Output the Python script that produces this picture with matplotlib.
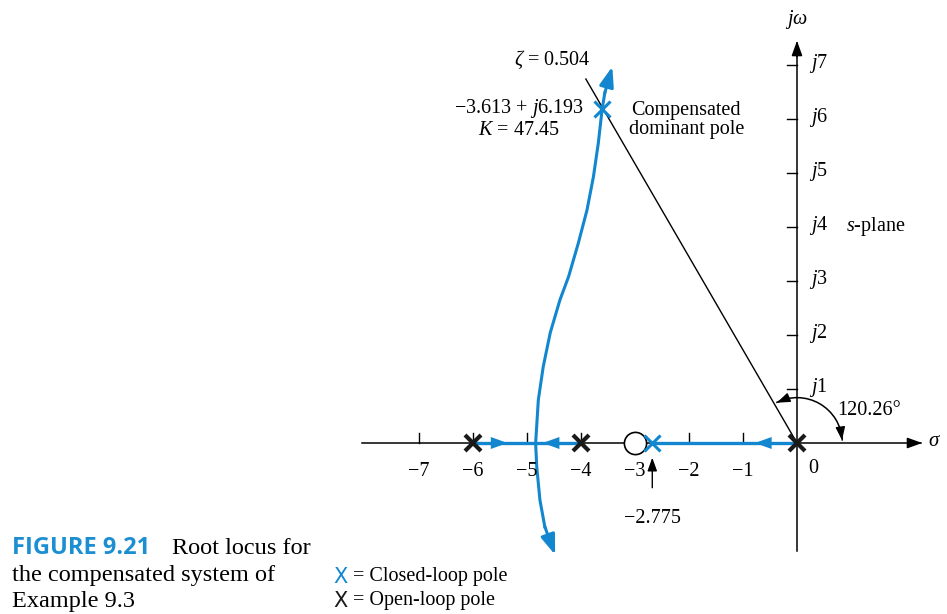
import numpy as np
import matplotlib
matplotlib.use('Agg')
import matplotlib.pyplot as plt
from matplotlib.patches import Arc

plt.rcParams['font.family'] = ['Liberation Serif', 'DejaVu Serif']
plt.rcParams['mathtext.fontset'] = 'custom'
plt.rcParams['mathtext.rm'] = 'Liberation Serif'
plt.rcParams['mathtext.it'] = 'Liberation Serif:italic'

BLUE = '#1287cf'

# data
x_ticks = [-7, -6, -5, -4, -3, -2, -1]
y_ticks = [1, 2, 3, 4, 5, 6, 7]
open_loop_poles = [0, -4, -6]
zero = -3.0
closed_real = -2.68
closed_label = '\u22122.775'
dominant = (-3.613, 6.193)
zeta_end = (-3.91, 6.74)
zeta_angle = 120.26

locus_sigma = [-4.48, -4.67, -4.76, -4.82, -4.84, -4.79, -4.70, -4.57, -4.39,
               -4.23, -4.05, -3.89, -3.77, -3.68, -3.61, -3.56, -3.42]
locus_omega = [-2.07, -1.55, -1.06, -0.44, 0.00, 0.80, 1.41, 2.04, 2.65,
               3.08, 3.70, 4.31, 4.93, 5.55, 6.17, 6.48, 6.97]

# real-axis branches (start, end) and arrow tip positions
real_segments = [(0, closed_real), (-6, -4)]
real_arrows = [(-0.83, -1), (-5.31, 1), (-4.76, -1)]

# pixel scale: origin at (797, 443), 54 px per unit
W, H = 947, 614
ox, oy, s = 797, 443, 54.0
fig = plt.figure(figsize=(W / 100, H / 100), dpi=100)
ax = fig.add_axes([0, 0, 1, 1])
ax.set_xlim(-ox / s, (W - ox) / s)
ax.set_ylim(-(H - oy) / s, oy / s)
ax.axis('off')

head = '-|>,head_length=0.5,head_width=0.18'

# axes of the s-plane
ax.plot([-8.06, 2.3], [0, 0], color='black', lw=1.1, zorder=1)
ax.annotate('', xy=(2.37, 0), xytext=(2.0, 0),
            arrowprops=dict(arrowstyle=head, color='black', lw=1.1, mutation_scale=18))
ax.plot([0, 0], [-2.0, 7.4], color='black', lw=1.1, zorder=1)
ax.annotate('', xy=(0, 7.5), xytext=(0, 7.1),
            arrowprops=dict(arrowstyle=head, color='black', lw=1.1, mutation_scale=18))
for t in x_ticks:
    ax.plot([t, t], [0, 0.18], color='black', lw=1)
    ax.text(t, -0.52, '\u2212%d' % -t, ha='center', va='center', fontsize=14.5)
ax.text(0.3, -0.47, '0', ha='center', va='center', fontsize=14.5)
for t in y_ticks:
    ax.plot([-0.18, 0], [t, t], color='black', lw=1)
    ax.text(0.22, t + 0.02, r'$j%d$' % t, ha='left', va='center', fontsize=14.5)
ax.text(0.0, 7.84, r'$j\omega$', ha='center', va='center', fontsize=14.5)
ax.text(2.55, 0.02, r'$\sigma$', ha='center', va='center', fontsize=15)
ax.text(0.9, 4.0, r'$s$-plane', ha='left', va='center', fontsize=14.5)

# zeta line and angle
ax.plot([0, zeta_end[0]], [0, zeta_end[1]], color='black', lw=1.0)
ax.text(-3.82, 7.1, r'$\zeta$ = 0.504', ha='right', va='center', fontsize=14.5)
r = 0.84
ax.add_patch(Arc((0, 0), 2 * r, 2 * r, theta1=3, theta2=zeta_angle - 3,
                 color='black', lw=1.1))
a1 = np.radians(zeta_angle)
ax.annotate('', xy=(r * np.cos(a1), r * np.sin(a1)),
            xytext=(r * np.cos(a1 - 0.25), r * np.sin(a1 - 0.25)),
            arrowprops=dict(arrowstyle=head, color='black', lw=1, mutation_scale=16))
ax.annotate('', xy=(r, 0), xytext=(r * np.cos(0.25), r * np.sin(0.25)),
            arrowprops=dict(arrowstyle=head, color='black', lw=1, mutation_scale=16))
ax.text(1.33, 0.6, '120.26\u00b0', ha='center', va='center', fontsize=14.5)

# root locus branches
for a, b in real_segments:
    ax.plot([a, b], [0, 0], color=BLUE, lw=2.4, zorder=2)
for tip, d in real_arrows:
    ax.annotate('', xy=(tip, 0), xytext=(tip - 0.3 * d, 0),
                arrowprops=dict(arrowstyle=head, color=BLUE, lw=0, mutation_scale=24),
                zorder=3)
ax.plot(locus_sigma[1:-1], locus_omega[1:-1], color=BLUE, lw=2.2, zorder=2,
        solid_joinstyle='round')
ax.annotate('', xy=(locus_sigma[0], locus_omega[0]),
            xytext=(locus_sigma[1], locus_omega[1]),
            arrowprops=dict(arrowstyle=head, color=BLUE, lw=2.2, mutation_scale=24,
                            shrinkA=0, shrinkB=0))
ax.annotate('', xy=(locus_sigma[-1], locus_omega[-1]),
            xytext=(locus_sigma[-2], locus_omega[-2]),
            arrowprops=dict(arrowstyle=head, color=BLUE, lw=2.2, mutation_scale=24,
                            shrinkA=0, shrinkB=0))

# poles and zero
ax.plot(open_loop_poles, [0] * len(open_loop_poles), 'x', color='#1a1a1a',
        ms=11, mew=3, zorder=5)
ax.plot([zero], [0], 'o', mfc='white', mec='black', ms=16, mew=1.2, zorder=4)
ax.plot([closed_real, dominant[0]], [0, dominant[1]], 'x', color=BLUE,
        ms=11, mew=2.2, zorder=5)

# annotations
ax.text(-5.15, 6.2, '\u22123.613 + $j$6.193', ha='center', va='center', fontsize=14.5)
ax.text(-5.15, 5.78, r'$K$ = 47.45', ha='center', va='center', fontsize=14.5)
ax.text(-2.05, 5.98, 'Compensated\ndominant pole', ha='center', va='center',
        fontsize=14.5, linespacing=1.05)
ax.annotate('', xy=(closed_real, -0.22), xytext=(closed_real, -0.88),
            arrowprops=dict(arrowstyle=head, color='black', lw=1, mutation_scale=16))
ax.text(closed_real, -1.4, closed_label, ha='center', va='center', fontsize=14.5)

# legend
fig.text(333 / W, 1 - 577 / H, 'X', color=BLUE, family='DejaVu Sans',
         fontsize=15, ha='left', va='center')
fig.text(353 / W, 1 - 577 / H, '= Closed-loop pole', fontsize=14.5,
         ha='left', va='center')
fig.text(333 / W, 1 - 601 / H, 'X', color='#1a1a1a', family='DejaVu Sans',
         fontsize=15, ha='left', va='center')
fig.text(353 / W, 1 - 601 / H, '= Open-loop pole', fontsize=14.5,
         ha='left', va='center')

# caption
fig.text(12 / W, 1 - 548 / H, 'FIGURE 9.21', color='#1b8fd2', family='Open Sans',
         weight='bold', fontsize=17, ha='left', va='center')
fig.text(172 / W, 1 - 548 / H, 'Root locus for', fontsize=17.5, ha='left', va='center')
fig.text(12 / W, 1 - 575 / H, 'the compensated system of', fontsize=17.5,
         ha='left', va='center')
fig.text(12 / W, 1 - 601 / H, 'Example 9.3', fontsize=17.5, ha='left', va='center')

fig.savefig('out.png', dpi=100)
